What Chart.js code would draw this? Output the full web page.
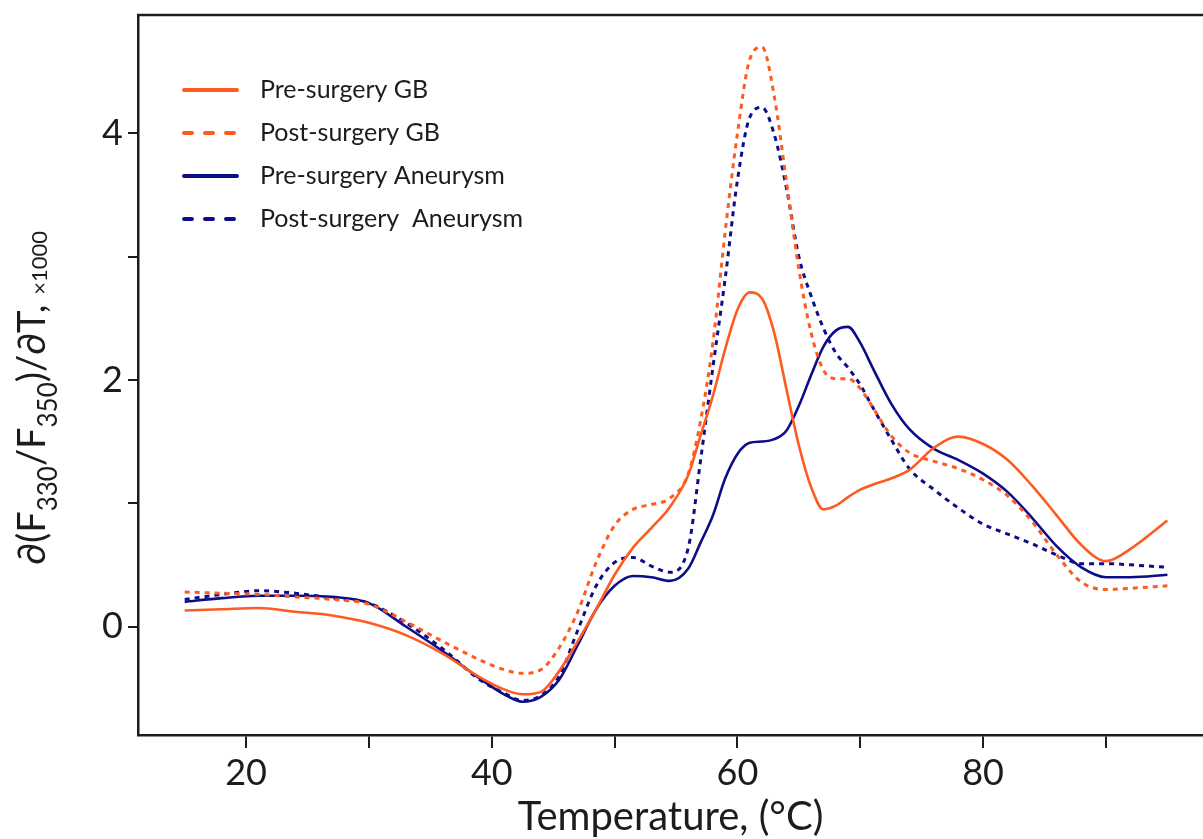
<!DOCTYPE html>
<html lang="en">
<head>
    <meta charset="UTF-8">
    <title>Thermal unfolding derivative</title>
    <style>
        html, body { margin: 0; padding: 0; background: #fff; overflow: hidden; }
        .chart-box { width: 1203px; height: 839px; position: relative; }
    </style>
</head>
<body>
    <div class="chart-box">
        <canvas id="dsfChart"></canvas>
    </div>
    <script src="https://cdn.jsdelivr.net/npm/chart.js@4.4.0/dist/chart.umd.min.js"></script>
    <script>
        // temperature points (°C)
        var temps = [15, 18, 21, 24, 27, 30, 33, 36, 39, 41, 42.5, 44, 45.5, 47, 48.5, 50, 51.5, 53, 54.5, 56,
                     57, 58, 59, 60, 61, 62, 63, 64, 65, 66, 67, 68, 69, 70, 71, 72.5, 74, 76, 78, 80,
                     82, 84, 86, 88, 90, 92, 95];

        // d(F330/F350)/dT x1000
        var preGB = [0.13, 0.14, 0.15, 0.12, 0.09, 0.03, -0.07, -0.22, -0.41, -0.51, -0.55, -0.53, -0.36, -0.12, 0.14, 0.42, 0.64, 0.80, 0.97, 1.23,
                     1.55, 1.87, 2.25, 2.57, 2.71, 2.66, 2.38, 1.92, 1.47, 1.13, 0.95, 0.98, 1.05, 1.11, 1.15, 1.20, 1.27, 1.45, 1.54, 1.48,
                     1.35, 1.14, 0.90, 0.66, 0.53, 0.63, 0.86];
        var postGB = [0.28, 0.27, 0.26, 0.24, 0.22, 0.18, 0.04, -0.12, -0.27, -0.35, -0.38, -0.35, -0.17, 0.12, 0.52, 0.82, 0.95, 0.99, 1.04, 1.24,
                      1.67, 2.30, 3.20, 4.00, 4.60, 4.70, 4.30, 3.60, 2.90, 2.38, 2.08, 2.01, 2.01, 1.93, 1.78, 1.55, 1.41, 1.34, 1.28, 1.19,
                      1.06, 0.85, 0.58, 0.36, 0.30, 0.31, 0.33];
        var preAneurysm = [0.20, 0.23, 0.25, 0.25, 0.24, 0.19, 0.00, -0.20, -0.42, -0.55, -0.61, -0.57, -0.43, -0.15, 0.14, 0.33, 0.41, 0.40, 0.37, 0.47,
                           0.68, 0.90, 1.20, 1.40, 1.49, 1.50, 1.52, 1.59, 1.79, 2.04, 2.27, 2.40, 2.43, 2.30, 2.10, 1.81, 1.60, 1.44, 1.35, 1.24,
                           1.09, 0.88, 0.65, 0.48, 0.40, 0.40, 0.42];
        var postAneurysm = [0.22, 0.26, 0.29, 0.27, 0.23, 0.19, 0.03, -0.18, -0.43, -0.54, -0.60, -0.56, -0.40, -0.03, 0.33, 0.52, 0.56, 0.49, 0.44, 0.64,
                            1.35, 2.10, 2.82, 3.62, 4.13, 4.21, 3.99, 3.55, 3.00, 2.68, 2.42, 2.22, 2.10, 1.96, 1.78, 1.52, 1.28, 1.11, 0.96, 0.83,
                            0.75, 0.67, 0.58, 0.51, 0.51, 0.50, 0.48];

        var xTicks = [20, 30, 40, 50, 60, 70, 80, 90];
        var xLabelled = [20, 40, 60, 80];
        var yTicks = [0, 1, 2, 3, 4];
        var yLabelled = [0, 2, 4];

        var seriesNames = ['Pre-surgery GB', 'Post-surgery GB', 'Pre-surgery Aneurysm', 'Post-surgery  Aneurysm'];

        var ORANGE = '#ff5a1f';
        var NAVY = '#0d0d8a';
        var INK = '#1c1c1c';
        var FONT = 'Lato, "Open Sans", sans-serif';

        function toPoints(values) {
            return temps.map(function (t, i) { return { x: t, y: values[i] }; });
        }

        function makeSet(label, values, color, dashed) {
            return {
                label: label,
                data: toPoints(values),
                borderColor: color,
                backgroundColor: color,
                borderWidth: dashed ? 3 : 2.6,
                borderDash: dashed ? [5, 5] : [],
                pointRadius: 0,
                fill: false,
                cubicInterpolationMode: 'monotone'
            };
        }

        // legend drawn inside the plot, top-left
        var innerLegend = {
            id: 'innerLegend',
            afterDatasetsDraw: function (chart) {
                var ctx = chart.ctx;
                var rows = [90, 133, 176, 219];
                ctx.save();
                chart.data.datasets.forEach(function (ds, i) {
                    var y = rows[i];
                    ctx.beginPath();
                    ctx.strokeStyle = ds.borderColor;
                    ctx.lineWidth = 4;
                    ctx.lineCap = 'round';
                    ctx.setLineDash(ds.borderDash.length ? [8, 13] : []);
                    ctx.moveTo(184, y);
                    ctx.lineTo(237, y);
                    ctx.stroke();
                    ctx.setLineDash([]);
                    ctx.fillStyle = INK;
                    ctx.font = '25px ' + FONT;
                    ctx.textBaseline = 'middle';
                    ctx.textAlign = 'left';
                    ctx.fillText(ds.label, 260, y);
                });
                ctx.restore();
            }
        };

        // top frame line + y title with subscripts
        var frameAndTitle = {
            id: 'frameAndTitle',
            afterDraw: function (chart) {
                var ctx = chart.ctx;
                var area = chart.chartArea;
                ctx.save();
                ctx.beginPath();
                ctx.strokeStyle = INK;
                ctx.lineWidth = 2.5;
                ctx.moveTo(area.left - 1, area.top);
                ctx.lineTo(area.right + 2, area.top);
                ctx.stroke();

                var parts = [
                    { t: '\u2202(F', size: 38, dy: 0 },
                    { t: '330', size: 26, dy: 12 },
                    { t: '/F', size: 38, dy: 0 },
                    { t: '350', size: 26, dy: 12 },
                    { t: ')/\u2202T, ', size: 38, dy: 0 },
                    { t: '\u00d71000', size: 22, dy: 2 }
                ];
                ctx.fillStyle = INK;
                ctx.textBaseline = 'alphabetic';
                ctx.textAlign = 'left';
                var total = 0;
                parts.forEach(function (p) {
                    ctx.font = p.size + 'px ' + FONT;
                    p.w = ctx.measureText(p.t).width;
                    total += p.w;
                });
                ctx.translate(45, 398);
                ctx.rotate(-Math.PI / 2);
                var x = -total / 2;
                parts.forEach(function (p) {
                    ctx.font = p.size + 'px ' + FONT;
                    ctx.fillText(p.t, x, p.dy);
                    x += p.w;
                });
                ctx.restore();
            }
        };

        var ctx = document.getElementById('dsfChart').getContext('2d');
        var chart = new Chart(ctx, {
            type: 'line',
            data: {
                datasets: [
                    makeSet(seriesNames[0], preGB, ORANGE, false),
                    makeSet(seriesNames[1], postGB, ORANGE, true),
                    makeSet(seriesNames[2], preAneurysm, NAVY, false),
                    makeSet(seriesNames[3], postAneurysm, NAVY, true)
                ]
            },
            options: {
                responsive: true,
                maintainAspectRatio: false,
                animation: false,
                devicePixelRatio: 1,
                layout: { padding: { top: 15, right: 0, left: 0, bottom: 0 } },
                plugins: {
                    legend: { display: false },
                    tooltip: { enabled: false }
                },
                scales: {
                    x: {
                        type: 'linear',
                        min: 11.2,
                        max: 97.9,
                        afterBuildTicks: function (scale) {
                            scale.ticks = xTicks.map(function (v) { return { value: v }; });
                        },
                        afterFit: function (scale) {
                            scale.height = 104;
                            scale.paddingLeft = 0;
                            scale.paddingRight = 0;
                        },
                        grid: {
                            drawOnChartArea: false,
                            drawTicks: true,
                            tickLength: 13,
                            color: INK,
                            lineWidth: 2
                        },
                        border: { display: true, color: INK, width: 2.5 },
                        ticks: {
                            color: INK,
                            font: { family: FONT, size: 36 },
                            padding: 4,
                            maxRotation: 0,
                            autoSkip: false,
                            callback: function (v) { return xLabelled.indexOf(v) >= 0 ? String(v) : ''; }
                        },
                        title: {
                            display: true,
                            text: 'Temperature, (\u00b0C)',
                            color: INK,
                            font: { family: FONT, size: 40 },
                            padding: { top: 0, bottom: -2 }
                        }
                    },
                    y: {
                        type: 'linear',
                        min: -0.88,
                        max: 4.96,
                        afterBuildTicks: function (scale) {
                            scale.ticks = yTicks.map(function (v) { return { value: v }; });
                        },
                        afterFit: function (scale) {
                            scale.width = 138;
                            scale.paddingTop = 0;
                            scale.paddingBottom = 0;
                        },
                        grid: {
                            drawOnChartArea: false,
                            drawTicks: true,
                            tickLength: 10,
                            color: INK,
                            lineWidth: 2
                        },
                        border: { display: true, color: INK, width: 2.5 },
                        ticks: {
                            color: INK,
                            font: { family: FONT, size: 36 },
                            padding: 5,
                            callback: function (v) { return yLabelled.indexOf(v) >= 0 ? String(v) : ''; }
                        }
                    }
                }
            },
            plugins: [innerLegend, frameAndTitle]
        });
    </script>
</body>
</html>
